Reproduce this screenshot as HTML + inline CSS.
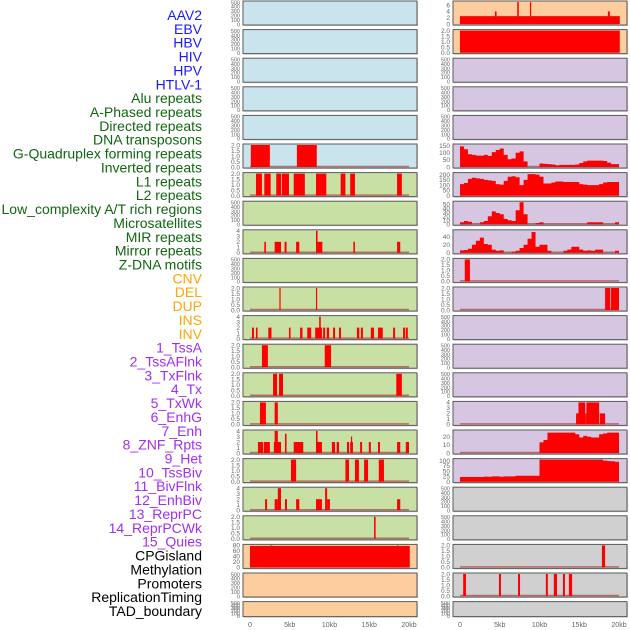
<!DOCTYPE html>
<html><head><meta charset="utf-8"><style>
html,body{margin:0;padding:0;background:#fff;width:630px;height:630px;overflow:hidden}
svg{display:block;font-family:"Liberation Sans",sans-serif}
</style></head><body>
<svg id="chart" width="630" height="630"></svg>
<script>
// ---------- data ----------
const trackLabels = ["AAV2","EBV","HBV","HIV","HPV","HTLV-1","Alu repeats","A-Phased repeats","Directed repeats","DNA transposons","G-Quadruplex forming repeats","Inverted repeats","L1 repeats","L2 repeats","Low_complexity A/T rich regions","Microsatellites","MIR repeats","Mirror repeats","Z-DNA motifs","CNV","DEL","DUP","INS","INV","1_TssA","2_TssAFlnk","3_TxFlnk","4_Tx","5_TxWk","6_EnhG","7_Enh","8_ZNF_Rpts","9_Het","10_TssBiv","11_BivFlnk","12_EnhBiv","13_ReprPC","14_ReprPCWk","15_Quies","CPGisland","Methylation","Promoters","ReplicationTiming","TAD_boundary"];
const labelGroups = [6,13,5,15,5];
const xTickValues = [0,5,10,15,20];
const xTickLabels = ["0","5kb","10kb","15kb","20kb"];

// y maxima per panel row (left / right)
const leftYMax  = [500,500,500,500,500,2,2,500,4,500,2,4,2,2,2,4,2,4,2,80,500,500];
const rightYMax = [7,2,500,500,500,155,210,55,55,2,2,500,500,500,4,27,105,500,500,2,2,500];
// background kinds
const leftBg  = ["b","b","b","b","b","b","g","g","g","g","g","g","g","g","g","g","g","g","g","o","o","o"];
const rightBg = ["o","o","l","l","l","l","l","l","l","l","l","l","l","l","l","l","l","y","y","y","y","y"];

// bar intervals [startKb, endKb, value]
const L5  = [[0.1,2.5,2],[5.9,8.4,2]];
const L6  = [[0.75,1.5,2],[1.8,2.6,2],[3.3,3.9,2],[4.0,4.9,2],[5.5,6.9,2],[8.3,9.6,2],[11.4,12,2],[12.6,13.2,2],[18.5,19.1,2]];
const L8  = [[1.8,2.0,2],[3.1,3.9,2],[4.35,4.6,2],[5.8,6.2,2],[8.5,9.1,2],[8.3,8.5,4],[13,13.2,2],[18.5,18.9,2]];
const L10 = [[3.7,3.85,2],[8.3,8.45,2]];
const L11 = [[0.25,0.5,2],[0.75,0.95,2],[2.3,2.7,2],[4.9,5.1,2],[6.3,6.6,2],[7.2,7.7,2],[8.2,9.05,2],[8.7,8.9,4],[9.2,9.45,2],[9.65,9.95,2],[10.45,10.7,2],[11.2,11.45,2],[13.45,13.75,2],[13.95,14.2,2],[15.2,15.6,2],[16.1,16.7,2],[18,18.25,2],[19.25,19.5,2],[19.6,19.85,2]];
const L12 = [[1.5,2.25,2],[9.4,10.2,2]];
const L13 = [[2.9,3.4,2],[3.65,4.15,2],[18.4,19.1,2]];
const L14 = [[1.25,2.0,2],[3.1,3.5,2]];
const L15 = [[1,1.65,2],[1.75,2.5,2],[3,3.9,2],[3.1,3.5,4],[4.4,4.6,3.5],[5.5,6.7,2],[8.3,9.05,2],[8.3,8.5,4],[10.3,10.7,2],[10.9,11.2,2],[12.2,12.45,2],[12.6,12.95,2],[12.7,12.85,3],[13.85,14.1,2],[14.95,15.2,2],[16.1,16.35,2],[18.5,18.9,2],[19.6,20,2]];
const L16 = [[5.15,5.8,2],[12,12.45,2],[13.2,13.7,2],[14.35,14.85,2],[16.2,16.85,2]];
const L17 = [[1.9,2.15,2],[3.1,3.5,2],[3.5,3.9,4],[4.4,4.65,2],[5.8,6.2,2],[8.3,9.05,2],[9.45,9.7,4],[9.7,10.05,2],[18.5,18.9,2]];
const L18 = [[15.6,15.8,2]];
const L19 = [[0,20.1,78],[2.6,2.8,80],[18.5,18.7,80]];
const R0  = [[0,20.1,2.5],[4.4,4.6,4],[7.2,7.4,7],[8.8,8.95,7],[18.6,18.85,4]];
const R1  = [[0,20.1,2]];
const R9  = [[0.6,1.25,2]];
const R10 = [[18.25,18.9,2],[19,20,2]];
const R14 = [[14.6,14.9,2],[14.9,15.75,4],[15.75,15.9,2],[15.9,17.5,4],[17.6,18.25,2]];
const R19 = [[17.85,18.25,2]];
const R20 = [[0.4,0.75,2],[4.9,5.15,2],[7.3,7.55,2],[10.8,11.05,2],[11.8,12.2,2],[12.95,13.2,2],[13.7,14.1,2]];

// step series (0.5 kb bins, 0..20 kb)
const R5  = [145,125,90,85,80,80,85,78,105,120,130,85,55,60,100,110,40,0,0,0,25,22,20,18,12,15,15,15,15,18,28,40,45,45,45,45,42,30,20,20];
const R6  = [110,120,160,170,165,160,150,145,140,110,105,140,180,185,175,100,150,205,205,200,180,115,115,125,135,135,130,130,130,130,110,105,100,100,100,110,125,130,130,130];
const R7  = [5,8,6,0,0,5,8,20,32,28,25,13,10,8,35,55,25,0,0,3,5,0,0,0,0,0,0,0,0,0,0,0,5,5,5,5,0,0,0,5];
const R8  = [6,7,10,20,30,38,22,20,8,5,6,0,0,3,5,12,20,35,52,15,20,20,5,0,0,0,5,8,15,15,8,5,6,5,8,8,0,0,0,5];
const R15 = [0,0,0,0,0,0,0,0,0,0,0,0,0,0,0,0,0,0,0,0,13,16,25,25,25,25,25,25,25,23,19,21,20,19,19,23,24,25,25,25];
const R16 = [22,22,22,22,22,22,24,23,25,25,23,25,25,25,28,28,28,28,28,28,105,105,105,105,105,105,105,105,105,105,105,105,105,105,105,105,100,98,97,95];

const leftBars  = {5:L5,6:L6,8:L8,10:L10,11:L11,12:L12,13:L13,14:L14,15:L15,16:L16,17:L17,18:L18,19:L19};
const rightBars = {0:R0,1:R1,9:R9,10:R10,14:R14,19:R19,20:R20};
const rightSteps = {5:R5,6:R6,7:R7,8:R8,15:R15,16:R16};

// ---------- drawing ----------
const NS="http://www.w3.org/2000/svg";
const svg=document.getElementById('chart');
function el(tag,attrs,parent){const e=document.createElementNS(NS,tag);for(const k in attrs)e.setAttribute(k,attrs[k]);(parent||svg).appendChild(e);return e;}
const bgColors={b:"#c9e4ec",g:"#c9e0a5",o:"#fdcd9d",l:"#d6c6e2",y:"#d0d0d0"};
const groupColors=["#1a1aff","#116611","#ffa500","#a02ff0","#000000"];

// labels
let gi=0,cnt=0;
trackLabels.forEach((t,i)=>{
  while(cnt>=labelGroups[gi]){cnt-=labelGroups[gi];gi++;}
  const tx=el('text',{x:202,y:20+i*13.86,'text-anchor':'end','font-size':14,fill:groupColors[gi]});
  
  
  tx.textContent=t;cnt++;
});

function tickList(m){
  if(m===500)return[0,100,200,300,400,500];
  if(m===2)return[0,0.5,1,1.5,2];
  if(m===4)return[0,1,2,3,4];
  if(m===7)return[0,2,4,6];
  if(m===80)return[0,20,40,60,80];
  if(m===155)return[0,50,100,150];
  if(m===210)return[0,50,100,150,200];
  if(m===27)return[0,10,20];
  if(m===105)return[0,25,50,75,100];
  return[0,m];
}
function fmt(v,m){return m===2?v.toFixed(1):String(v);}

function panel(side,i,ymax,bg,bars,steps){
  const x0=side===0?243:453, w=174;
  const top=1+i*28.6, h=(i===21?15:24);
  const g=el('g',{});
  
  
  el('rect',{x:x0+1,y:top+1,width:w,height:h,fill:'#999',opacity:0.5},g);
  el('rect',{x:x0,y:top,width:w,height:h,fill:bgColors[bg],stroke:'#5a5a5a','stroke-width':1},g);
  const xs=kb=>x0+7+kb*7.95;
  const yb=top+h-1, yt=top+1;
  const ys=v=>yb-(v/ymax)*(yb-yt);
  if(bars||steps){
    el('line',{x1:xs(0),x2:xs(20),y1:yb-0.5,y2:yb-0.5,stroke:'#b04040','stroke-width':1.5,opacity:0.7},g);
  }
  if(bars){bars.forEach(b=>{
    const r=el('rect',{x:xs(b[0]),y:ys(b[2]),width:Math.max(1.2,xs(b[1])-xs(b[0])),height:yb-ys(b[2]),fill:'#ff0000'},g);
    
    
  });}
  if(steps){
    let d='M'+xs(0)+','+yb;
    steps.forEach((v,k)=>{d+=' L'+xs(k*0.5)+','+ys(v)+' L'+xs(k*0.5+0.5)+','+ys(v);});
    d+=' L'+xs(20)+','+yb+' Z';
    const p=el('path',{d:d,fill:'#ff0000'},g);
    
    
  }
  let tl=tickList(ymax);
  if(ymax===55) tl=(i===8?[0,20,40]:[0,10,20,30,40,50]);
  tl.forEach(v=>{
    const t=el('text',{x:x0-3,y:ys(v)+2.3,'text-anchor':'end','font-size':ymax===500?5.5:6.5,fill:'#666'},g);
    
    
    t.textContent=fmt(v,ymax);
  });
}
for(let i=0;i<22;i++){
  panel(0,i,leftYMax[i],leftBg[i],leftBars[i],null);
  panel(1,i,rightYMax[i],rightBg[i],rightBars[i],rightSteps[i]);
}
[0,1].forEach(s=>{
  const x0=s===0?243:453;
  xTickValues.forEach((v,k)=>{
    const t=el('text',{x:x0+7+v*7.95,y:627,'text-anchor':'middle','font-size':7,fill:'#666'});
    
    
    t.textContent=xTickLabels[k];
  });
});
</script>
</body></html>
